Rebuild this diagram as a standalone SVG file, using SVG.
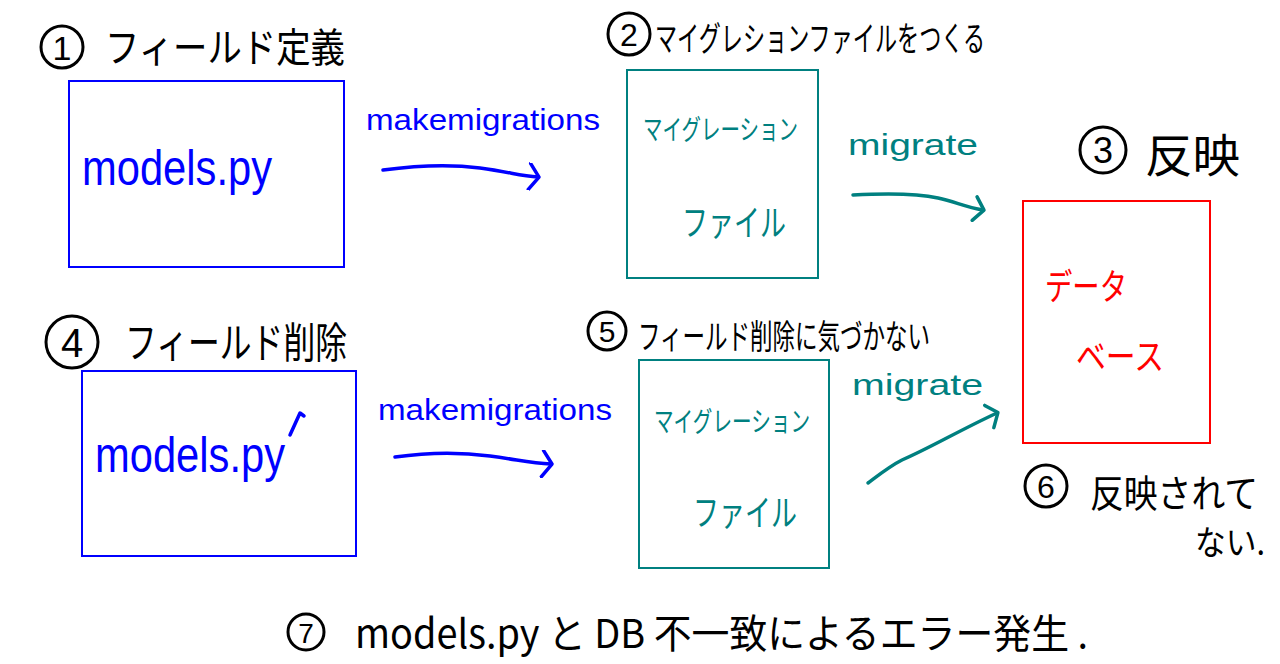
<svg xmlns="http://www.w3.org/2000/svg" width="1280" height="664" viewBox="0 0 1280 664">
<style>
.bg{fill:#fff}
.box{fill:none;stroke-width:2}
.blue{stroke:#0000ff}
.teal{stroke:#008080}
.red{stroke:#ff0000}
.tb{fill:#0000ff}
.tt{fill:#008080}
.tr{fill:#ff0000}
.tk{fill:#000}
.lat{font-family:"Liberation Sans","Noto Sans",sans-serif}
.jp{font-family:"Noto Sans CJK JP","Noto Sans",sans-serif}
.circ{fill:none;stroke:#000;stroke-width:3}
.line{fill:none;stroke-width:3.5;stroke-linecap:round;stroke-linejoin:round}
</style>
<defs>
<marker id="hb" viewBox="-14 -14 28 28" markerWidth="28" markerHeight="28" markerUnits="userSpaceOnUse" orient="auto">
<path d="M-8,-13 L1,0 L-9,13" fill="none" stroke="#0000ff" stroke-width="3.5" stroke-linecap="round" stroke-linejoin="round"/>
</marker>
<marker id="ht" viewBox="-14 -14 28 28" markerWidth="28" markerHeight="28" markerUnits="userSpaceOnUse" orient="auto">
<path d="M-8,-12 L1,0 L-9,12" fill="none" stroke="#008080" stroke-width="3.5" stroke-linecap="round" stroke-linejoin="round"/>
</marker>
</defs>
<rect class="bg" x="0" y="0" width="1280" height="664"/>

<g id="step1">
<circle class="circ" cx="62" cy="47" r="21"/>
<text class="lat tk" x="62" y="60" font-size="34" text-anchor="middle">1</text>
<text class="jp tk" x="105" y="62" font-size="40" textLength="240" lengthAdjust="spacingAndGlyphs">フィールド定義</text>
</g>

<g id="models1">
<rect class="box blue" x="69" y="81" width="275" height="186"/>
<text class="lat tb" x="82" y="185" font-size="50" textLength="190" lengthAdjust="spacingAndGlyphs">models.py</text>
</g>

<g id="step2">
<circle class="circ" cx="629" cy="34" r="21"/>
<text class="lat tk" x="629" y="46" font-size="32" text-anchor="middle">2</text>
<text class="jp tk" x="655" y="51" font-size="34" textLength="330" lengthAdjust="spacingAndGlyphs">マイグレションファイルをつくる</text>
</g>

<g id="migfile1">
<rect class="box teal" x="627" y="70" width="191" height="208"/>
<text class="jp tt" x="643" y="140" font-size="28" textLength="155" lengthAdjust="spacingAndGlyphs">マイグレーション</text>
<text class="jp tt" x="682" y="236" font-size="36" textLength="104" lengthAdjust="spacingAndGlyphs">ファイル</text>
</g>

<g id="step3">
<circle class="circ" cx="1103" cy="150" r="23"/>
<text class="lat tk" x="1103" y="163" font-size="36" text-anchor="middle">3</text>
<text class="jp tk" x="1145" y="172" font-size="46" textLength="95" lengthAdjust="spacingAndGlyphs">反映</text>
</g>

<g id="database">
<rect class="box red" x="1023" y="201" width="187" height="242"/>
<text class="jp tr" x="1045" y="300" font-size="36" textLength="82" lengthAdjust="spacingAndGlyphs">データ</text>
<text class="jp tr" x="1076" y="370" font-size="36" textLength="88" lengthAdjust="spacingAndGlyphs">ベース</text>
</g>

<g id="step4">
<circle class="circ" cx="72" cy="342" r="26"/>
<text class="lat tk" x="72" y="357" font-size="40" text-anchor="middle">4</text>
<text class="jp tk" x="125" y="358" font-size="42" textLength="222" lengthAdjust="spacingAndGlyphs">フィールド削除</text>
</g>

<g id="models2">
<rect class="box blue" x="82" y="371" width="274" height="185"/>
<text class="lat tb" x="95" y="472" font-size="50" textLength="190" lengthAdjust="spacingAndGlyphs">models.py</text>
<path class="line blue" d="M290,435 L300,413 L304,416" />
</g>

<g id="step5">
<circle class="circ" cx="607" cy="331" r="19"/>
<text class="lat tk" x="607" y="342" font-size="30" text-anchor="middle">5</text>
<text class="jp tk" x="638" y="349" font-size="34" textLength="292" lengthAdjust="spacingAndGlyphs">フィールド削除に気づかない</text>
</g>

<g id="migfile2">
<rect class="box teal" x="639" y="360" width="190" height="208"/>
<text class="jp tt" x="654" y="432" font-size="28" textLength="156" lengthAdjust="spacingAndGlyphs">マイグレーション</text>
<text class="jp tt" x="693" y="526" font-size="36" textLength="104" lengthAdjust="spacingAndGlyphs">ファイル</text>
</g>

<g id="step6">
<circle class="circ" cx="1046" cy="486" r="21"/>
<text class="lat tk" x="1046" y="498" font-size="32" text-anchor="middle">6</text>
<text class="jp tk" x="1090" y="507" font-size="38" textLength="168" lengthAdjust="spacingAndGlyphs">反映されて</text>
<text class="jp tk" x="1195" y="555" font-size="34" textLength="70" lengthAdjust="spacingAndGlyphs">ない.</text>
</g>

<g id="step7">
<circle class="circ" cx="306" cy="632" r="18"/>
<text class="lat tk" x="306" y="643" font-size="28" text-anchor="middle">7</text>
<text class="jp tk" x="355" y="648" font-size="40" textLength="733" lengthAdjust="spacingAndGlyphs">models.py と DB 不一致によるエラー発生 .</text>
</g>

<g id="connectors">
<path class="line blue" d="M383,170 C420,165 450,164 480,168 S520,176 538,177" marker-end="url(#hb)"/>
<text class="lat tb" x="366" y="130" font-size="30" textLength="234" lengthAdjust="spacingAndGlyphs">makemigrations</text>
<path class="line blue" d="M395,457 C430,452 460,452 490,456 S530,463 551,464" marker-end="url(#hb)"/>
<text class="lat tb" x="378" y="420" font-size="30" textLength="234" lengthAdjust="spacingAndGlyphs">makemigrations</text>
<path class="line teal" d="M853,195 C890,193 920,194 938,198 S965,207 983,210" marker-end="url(#ht)"/>
<text class="lat tt" x="848" y="155" font-size="30" textLength="130" lengthAdjust="spacingAndGlyphs">migrate</text>
<path class="line teal" d="M868,483 C880,474 890,466 902,460 C930,448 960,430 997,413" marker-end="url(#ht)"/>
<text class="lat tt" x="852" y="395" font-size="30" textLength="131" lengthAdjust="spacingAndGlyphs">migrate</text>
</g>
</svg>
